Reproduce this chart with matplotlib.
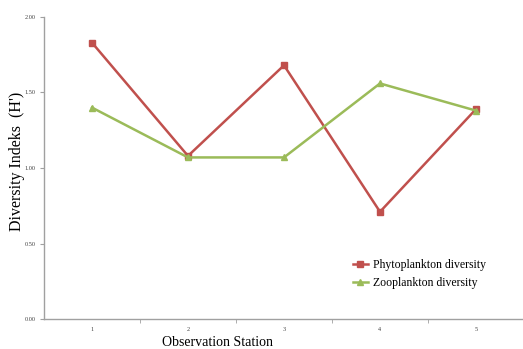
import matplotlib
matplotlib.use("Agg")
import matplotlib.pyplot as plt
from matplotlib.ticker import FixedLocator

stations = ["1", "2", "3", "4", "5"]
phyto = [1.83, 1.08, 1.68, 0.71, 1.39]
zoo = [1.40, 1.07, 1.07, 1.56, 1.38]
yticks = [0.0, 0.5, 1.0, 1.5, 2.0]
ytick_labels = ["0.00", "0.50", "1.00", "1.50", "2.00"]

plt.rcParams['font.family'] = ['Liberation Serif', 'DejaVu Serif']

W, H = 523, 349
fig = plt.figure(figsize=(W/100, H/100), dpi=100)
ax = fig.add_axes([44/W, 30/H, 480/W, 302/H])

x = list(range(1, len(stations) + 1))
ax.plot(x, phyto, color='#c0504d', marker='s', markersize=4.5, linewidth=1.8,
        label='Phytoplankton diversity')
ax.plot(x, zoo, color='#9bbb59', marker='^', markersize=4.5, linewidth=1.8,
        label='Zooplankton diversity')

ax.set_xlim(0.5, 5.5)
ax.set_ylim(0, 2.0)
ax.set_yticks(yticks)
ax.set_yticklabels(ytick_labels, fontsize=4.5)
ax.set_xticks(x)
ax.set_xticklabels(stations, fontsize=4.5)
ax.xaxis.set_minor_locator(FixedLocator([1.5, 2.5, 3.5, 4.5]))
ax.tick_params(axis='x', which='major', length=0, pad=6, colors='#404040')
ax.tick_params(axis='x', which='minor', length=3, color='#a0a0a0')
ax.tick_params(axis='y', length=3, color='#a0a0a0', labelcolor='#404040', pad=3)

for s in ['top', 'right']:
    ax.spines[s].set_visible(False)
for s in ['left', 'bottom']:
    ax.spines[s].set_color('#a0a0a0')
    ax.spines[s].set_linewidth(1.0)

fig.text(17/W, 1 - 161/H, 'Diversity Indeks  (H\')', fontsize=11.5,
         rotation=90, ha='center', va='center')
fig.text(218/W, 1 - 342/H, 'Observation Station', fontsize=10,
         ha='center', va='center')

ax.legend(loc='center left', bbox_to_anchor=(298/480, (319 - 274)/302), frameon=False,
          fontsize=8.5, handlelength=1.3, handletextpad=0.4, labelspacing=0.55)

fig.savefig('out.png', dpi=100)
